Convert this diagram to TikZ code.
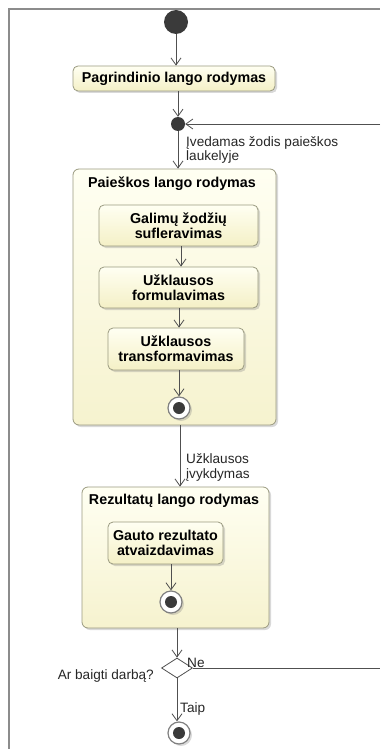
\documentclass[tikz,border=0pt]{standalone}
\usepackage{fontspec}
\setmainfont{Liberation Sans}
\usetikzlibrary{arrows.meta,shadows,shapes.geometric}
\definecolor{boxline}{HTML}{9A9A80}
\definecolor{boxtop}{HTML}{FFFFF2}
\definecolor{boxbot}{HTML}{F4F0C6}
\definecolor{conn}{HTML}{505050}
\definecolor{dark}{HTML}{3A3A3A}
\definecolor{frame}{HTML}{8C8C8C}
\begin{document}
\begin{tikzpicture}[x=1pt,y=-1pt,
  lbl/.style={font=\fontsize{13.6}{14.5}\selectfont, text=black!85, inner sep=0pt, align=left},
  boxshadow/.style={drop shadow={shadow xshift=2pt,shadow yshift=-2pt,opacity=0.3}},
  act/.style={draw=boxline, line width=0.8pt, rounded corners=5pt, top color=boxtop, bottom color=boxbot,
    font=\fontsize{14.3}{15}\selectfont\bfseries, align=center, inner sep=0pt, boxshadow},
  grp/.style={draw=boxline, line width=0.8pt, rounded corners=6pt, top color=boxtop, bottom color=boxbot!85!white, inner sep=0pt, boxshadow},
  ttl/.style={font=\fontsize{14.3}{15}\selectfont\bfseries, inner sep=0pt},
  flow/.style={draw=conn, line width=0.8pt, -{Straight Barb[length=7pt,width=10pt,line width=0.8pt]}},
  plain/.style={draw=conn, line width=0.8pt},
  fin/.style={circle, draw=gray, fill=white, line width=1.2pt, minimum size=22pt, inner sep=0pt, boxshadow},
]
\useasboundingbox (0,0) rectangle (380,749);
% frame
\draw[frame, line width=1.5pt] (9,749) -- (9,9) -- (380,9);

% start
\node[circle, fill=dark, minimum size=24pt, inner sep=0pt] (start) at (176,22) {};
\node[act, minimum width=202pt, minimum height=25pt] (pagr) at (174,78.5) {Pagrindinio lango rodymas};
\node[circle, fill=dark, minimum size=14pt, inner sep=0pt] (merge) at (178,124) {};
\coordinate (loopin) at (380,124);

% Paieskos group
\node[grp, minimum width=203pt, minimum height=256pt] (paie) at (174.5,297) {};
\node[ttl, anchor=base] (paiettl) at (172,187) {Paieškos lango rodymas};
\node[act, minimum width=159pt, minimum height=41pt] (galim) at (178.5,225.5) {Galimų žodžių\\sufleravimas};
\node[act, minimum width=159pt, minimum height=41pt] (formul) at (178.5,287.5) {Užklausos\\formulavimas};
\node[act, minimum width=136pt, minimum height=42pt] (transf) at (176,349) {Užklausos\\transformavimas};
\node[fin] (f1) at (179,408) {};
\fill[dark] (f1) circle (6);

% Rezultatu group
\node[grp, minimum width=187pt, minimum height=141pt] (rez) at (175.5,557.5) {};
\node[ttl, anchor=base] (rezttl) at (174,504) {Rezultatų lango rodymas};
\node[act, minimum width=115pt, minimum height=42pt] (gauto) at (165.5,543) {Gauto rezultato\\atvaizdavimas};
\node[fin] (f2) at (171,602) {};
\fill[dark] (f2) circle (6);

% decision
\node[diamond, draw=conn, fill=white, line width=0.8pt, minimum width=31pt, minimum height=20pt, inner sep=0pt] (dec) at (177,668) {};
\coordinate (loopout) at (380,668);
\node[fin] (f3) at (179,733) {};
\fill[dark] (f3) circle (6);

% connectors
\draw[flow] (start.south -| 176,0) -- (176,0 |- pagr.north);
\draw[flow] (pagr.south -| merge) -- (merge.north);
\draw[flow] (loopin) -- (merge.east);
\draw[flow] (merge.south) -- (merge |- paie.north);
\draw[flow] (galim.south -| 181,0) -- (181,0 |- formul.north);
\draw[flow] (formul.south -| 179,0) -- (179,0 |- transf.north);
\draw[flow] (transf.south -| f1) -- (f1.north);
\draw[flow] (paie.south -| 180,0) -- (180,0 |- rez.north);
\draw[flow] (gauto.south -| f2) -- (f2.north);
\draw[flow] (rez.south -| dec) -- (dec.north);
\draw[plain] (dec.east) -- (loopout);
\draw[flow] (dec.south) -- (dec.south |- f3.north);

% labels
\node[lbl, anchor=west] (l1) at (186,150) {Įvedamas žodis paieškos\\laukelyje};
\node[lbl, anchor=west] (l2) at (186,467.5) {Užklausos\\įvykdymas};
\node[lbl, anchor=base east] (l3) at (154,679) {Ar baigti darbą?};
\node[lbl, anchor=base west] (l4) at (187,667) {Ne};
\node[lbl, anchor=base west] (l5) at (180,712) {Taip};
\end{tikzpicture}
\end{document}
